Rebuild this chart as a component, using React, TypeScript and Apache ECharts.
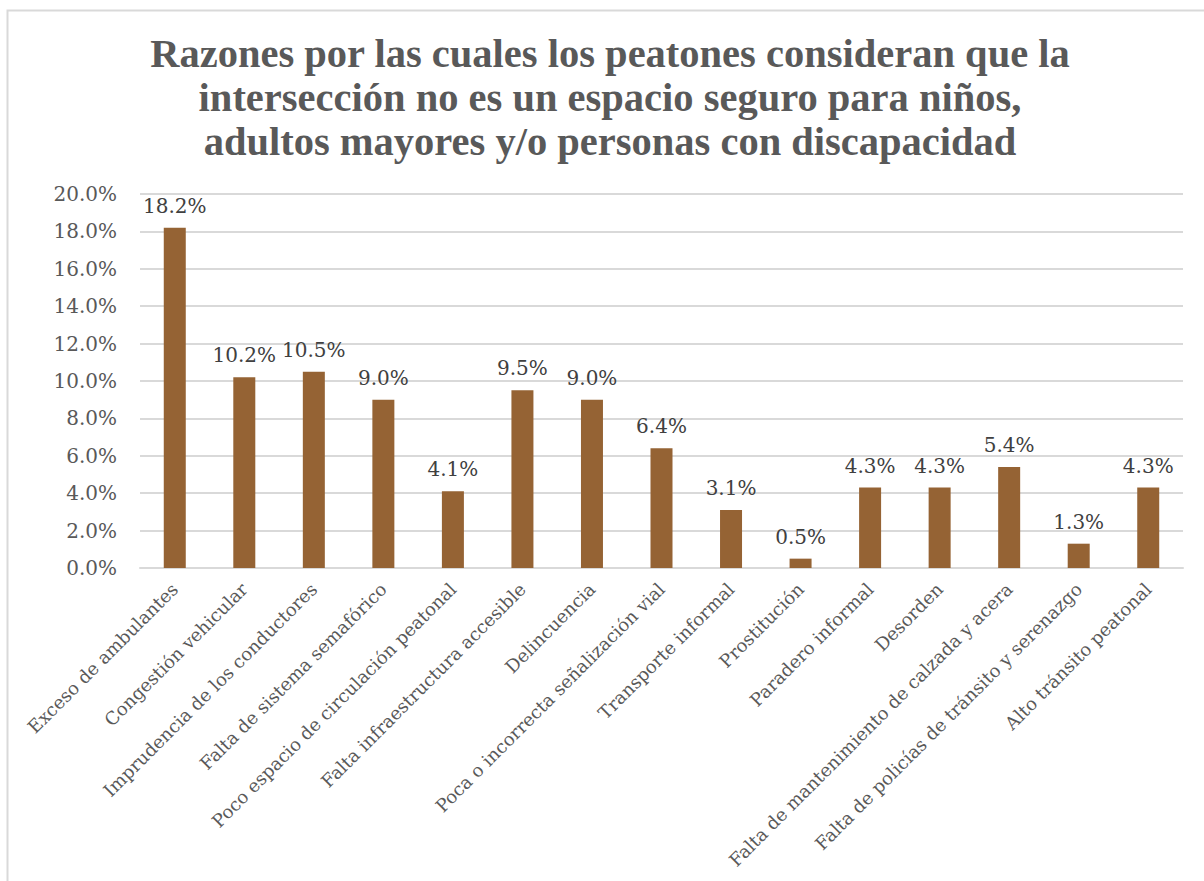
import React, { useEffect, useRef } from "react";
import * as echarts from "echarts";

const categories = [
  "Exceso de ambulantes",
  "Congestión vehicular",
  "Imprudencia de los conductores",
  "Falta de sistema semafórico",
  "Poco espacio de circulación peatonal",
  "Falta infraestructura accesible",
  "Delincuencia",
  "Poca o incorrecta señalización vial",
  "Transporte informal",
  "Prostitución",
  "Paradero informal",
  "Desorden",
  "Falta de mantenimiento de calzada y acera",
  "Falta de policías de tránsito y serenazgo",
  "Alto tránsito peatonal",
];
const values = [18.2, 10.2, 10.5, 9.0, 4.1, 9.5, 9.0, 6.4, 3.1, 0.5, 4.3, 4.3, 5.4, 1.3, 4.3];
const titleLines = [
  "Razones por las cuales los peatones consideran que la",
  "intersección no es un espacio seguro para niños,",
  "adultos mayores y/o personas con discapacidad",
];

const TFONT = "'Liberation Serif', serif";
const FONT = "'DejaVu Serif', serif";

export default function App() {
  const ref = useRef<HTMLDivElement>(null);
  useEffect(() => {
    if (!ref.current) return;
    const chart = echarts.init(ref.current, null, { renderer: "svg" });
    chart.setOption({
      animation: false,
      backgroundColor: "#ffffff",
      graphic: [
        {
          type: "rect",
          shape: { x: 7.5, y: 10.5, width: 1220, height: 900 },
          style: { fill: "none", stroke: "#d9d9d9", lineWidth: 2 },
          silent: true,
          z: -1,
        },
        {
          type: "text",
          x: 610,
          y: 31,
          style: {
            text: titleLines.join("\n"),
            align: "center",
            verticalAlign: "top",
            font: `bold 40.5px ${TFONT}`,
            lineHeight: 44,
            fill: "#595959",
          },
        },
      ],
      grid: { left: 140, right: 21, top: 194, bottom: 313, containLabel: false },
      xAxis: {
        type: "category",
        data: categories,
        axisLine: { lineStyle: { color: "#d9d9d9", width: 2 } },
        axisTick: { show: false },
        axisLabel: {
          interval: 0,
          rotate: 45,
          margin: 18,
          fontFamily: FONT,
          fontSize: 18,
          color: "#595959",
        },
      },
      yAxis: {
        type: "value",
        min: 0,
        max: 20,
        interval: 2,
        axisLine: { show: false },
        axisTick: { show: false },
        splitLine: { lineStyle: { color: "#d9d9d9", width: 2 } },
        axisLabel: {
          margin: 23,
          fontFamily: FONT,
          fontSize: 20,
          color: "#595959",
          formatter: (v: number) => v.toFixed(1) + "%",
        },
      },
      series: [
        {
          type: "bar",
          data: values,
          barWidth: 22,
          itemStyle: { color: "#956334" },
          label: {
            show: true,
            position: "top",
            distance: 12,
            fontFamily: FONT,
            fontSize: 20,
            color: "#404040",
            formatter: (p: any) => Number(p.value).toFixed(1) + "%",
          },
        },
      ],
    });
    return () => chart.dispose();
  }, []);
  return (
    <div
      ref={ref}
      style={{ position: "absolute", left: 0, top: 0, width: 1204, height: 881 }}
    />
  );
}
